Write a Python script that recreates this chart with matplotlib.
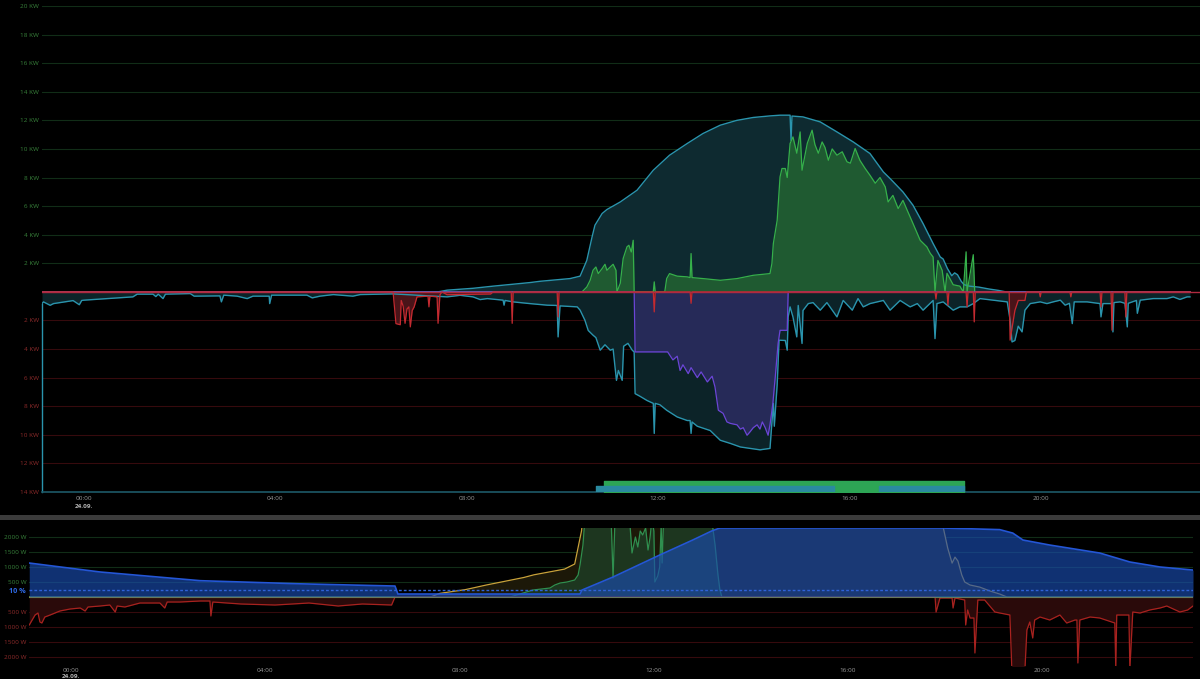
import matplotlib
matplotlib.use("Agg")
import matplotlib.pyplot as plt
import matplotlib.transforms as mtransforms
from matplotlib.patches import Rectangle

# ---------------------------------------------------------------- data
# time in hours since 24.09. 00:00, power in kW (upper panel)
pv_t = [-0.88, 7.40, 7.59, 8.13, 8.55, 9.32, 9.53, 10.16, 10.37, 10.51,
        10.62, 10.68, 10.83, 10.93, 11.21, 11.56, 11.90, 12.24, 12.61, 12.94,
        13.30, 13.65, 13.99, 14.34, 14.55, 14.76, 14.78, 14.80, 15.03, 15.39,
        15.74, 16.08, 16.43, 16.71, 16.85, 17.12, 17.33, 17.54, 17.75, 17.90,
        17.96, 18.05, 18.14, 18.20, 18.26, 18.34, 18.40, 18.51, 18.71, 18.92,
        19.12, 19.27, 23.12]
pv_kw = [0, 0, 0.12, 0.25, 0.40, 0.65, 0.74, 0.93, 1.10, 2.20,
         3.84, 4.66, 5.48, 5.76, 6.29, 7.11, 8.51, 9.56, 10.38, 11.08,
         11.66, 12.00, 12.20, 12.31, 12.36, 12.36, 10.60, 12.30, 12.24, 11.89,
         11.19, 10.49, 9.68, 8.39, 7.93, 6.99, 6.06, 4.78, 3.38, 2.44,
         2.30, 1.63, 1.13, 1.33, 1.20, 0.73, 0.50, 0.40, 0.33, 0.20,
         0.10, 0, 0]

exp_t = [-0.88, 10.41, 10.51, 10.58, 10.64, 10.70, 10.75, 10.83, 10.89, 10.93,
         11.00, 11.06, 11.12, 11.14, 11.21, 11.27, 11.35, 11.39, 11.44, 11.48,
         11.50, 11.90, 11.92, 11.94, 12.14, 12.18, 12.24, 12.40, 12.61, 12.67,
         12.69, 12.71, 12.94, 13.30, 13.65, 13.99, 14.34, 14.38, 14.41, 14.49,
         14.55, 14.59, 14.66, 14.70, 14.76, 14.82, 14.90, 14.97, 15.01, 15.12,
         15.22, 15.28, 15.35, 15.43, 15.49, 15.56, 15.64, 15.74, 15.85, 15.95,
         16.02, 16.12, 16.22, 16.33, 16.43, 16.54, 16.64, 16.75, 16.81, 16.91,
         17.02, 17.12, 17.21, 17.33, 17.48, 17.62, 17.69, 17.75, 17.79, 17.85,
         17.94, 18.00, 18.04, 18.17, 18.31, 18.38, 18.44, 18.46, 18.59, 18.62,
         23.12]
exp_kw = [0, 0, 0.34, 0.81, 1.51, 1.74, 1.28, 1.63, 1.93, 1.51,
          1.74, 1.93, 1.51, 0, 0.60, 2.33, 3.15, 3.26, 2.79, 3.61,
          0, 0, 0.70, 0, 0, 0.93, 1.28, 1.10, 1.05, 1.00,
          2.68, 1.00, 0.93, 0.81, 0.93, 1.16, 1.28, 1.98, 3.38, 5.00,
          8.04, 8.63, 8.63, 8.00, 10.38, 10.84, 9.70, 11.19, 8.51, 10.40,
          11.31, 10.30, 9.70, 10.49, 10.10, 9.21, 10.00, 9.56, 9.80, 9.10,
          9.00, 10.03, 9.20, 8.63, 8.16, 7.60, 8.00, 7.34, 6.29, 6.75,
          5.83, 6.40, 5.70, 4.78, 3.61, 3.15, 2.70, 2.44, 0, 2.20,
          1.50, 0, 1.30, 0.50, 0.40, 0, 2.80, 0, 2.60, 0,
          0]

bat_t = [-0.88, 11.50, 11.52, 12.20, 12.31, 12.40, 12.46, 12.52, 12.63, 12.69,
         12.82, 12.90, 13.03, 13.13, 13.19, 13.26, 13.36, 13.44, 13.51, 13.65,
         13.72, 13.78, 13.86, 13.92, 13.99, 14.07, 14.13, 14.18, 14.24, 14.30,
         14.34, 14.40, 14.45, 14.51, 14.55, 14.70, 14.72, 23.12]
bat_kw = [0, 0, -4.20, -4.20, -4.76, -4.50, -5.50, -5.10, -5.72, -5.30,
          -6.00, -5.60, -6.30, -5.90, -6.65, -8.28, -8.50, -9.10, -9.20, -9.30,
          -9.60, -9.50, -10.03, -9.80, -9.50, -9.30, -9.60, -9.10, -9.50, -10.03,
          -9.30, -7.80, -5.95, -3.60, -2.69, -2.69, 0, 0]

cons_t = [-0.88, -0.85, -0.71, -0.64, -0.50, -0.23, -0.10, -0.05, 0.00, 0.48,
          1.02, 1.11, 1.44, 1.50, 1.55, 1.65, 1.70, 2.22, 2.30, 2.84,
          2.87, 2.92, 3.20, 3.41, 3.53, 3.87, 3.88, 3.92, 4.66, 4.77,
          4.93, 5.21, 5.62, 5.77, 6.46, 7.59, 7.86, 8.13, 8.28, 8.43,
          8.76, 8.78, 8.80, 8.97, 9.32, 9.68, 9.89, 9.91, 9.95, 10.31,
          10.37, 10.47, 10.54, 10.64, 10.70, 10.79, 10.89, 11.00, 11.06, 11.13,
          11.17, 11.25, 11.28, 11.37, 11.46, 11.50, 11.52, 11.62, 11.77, 11.90,
          11.92, 11.94, 12.04, 12.18, 12.40, 12.61, 12.67, 12.69, 12.71, 12.82,
          13.09, 13.30, 13.51, 13.72, 13.92, 14.13, 14.34, 14.41, 14.43, 14.49,
          14.53, 14.66, 14.70, 14.72, 14.76, 14.82, 14.90, 14.93, 15.01, 15.03,
          15.14, 15.24, 15.39, 15.53, 15.74, 15.87, 16.06, 16.18, 16.29, 16.43,
          16.71, 16.85, 17.06, 17.27, 17.42, 17.54, 17.75, 17.79, 17.83, 17.96,
          18.17, 18.31, 18.46, 18.59, 18.73, 19.00, 19.30, 19.36, 19.40, 19.46,
          19.53, 19.61, 19.67, 19.78, 19.99, 20.13, 20.26, 20.41, 20.51, 20.60,
          20.66, 20.70, 20.97, 21.24, 21.26, 21.30, 21.49, 21.51, 21.53, 21.66,
          21.76, 21.81, 21.83, 22.00, 22.02, 22.08, 22.35, 22.64, 22.77, 22.91,
          23.06, 23.12]
cons_kw = [-0.82, -0.70, -0.94, -0.82, -0.75, -0.61, -0.90, -0.60, -0.58, -0.47,
           -0.35, -0.16, -0.16, -0.33, -0.16, -0.47, -0.16, -0.12, -0.30, -0.28,
           -0.70, -0.23, -0.30, -0.47, -0.30, -0.30, -0.82, -0.23, -0.23, -0.42,
           -0.30, -0.19, -0.30, -0.19, -0.14, -0.35, -0.24, -0.35, -0.54, -0.47,
           -0.58, -0.93, -0.60, -0.70, -0.82, -0.93, -0.95, -3.15, -0.98, -1.05,
           -1.28, -1.98, -2.70, -3.03, -3.20, -4.08, -3.70, -4.08, -4.00, -6.19,
           -5.50, -6.19, -3.80, -3.60, -4.08, -4.20, -7.12, -7.30, -7.60, -7.80,
           -9.90, -7.80, -7.90, -8.28, -8.75, -9.00, -9.00, -9.90, -9.10, -9.40,
           -9.70, -10.38, -10.60, -10.85, -10.95, -11.05, -10.95, -7.80, -9.40, -6.50,
           -3.38, -3.40, -4.08, -1.75, -1.05, -1.75, -3.15, -0.95, -3.61, -1.30,
           -0.82, -0.75, -1.28, -0.75, -1.75, -0.60, -1.28, -0.47, -1.05, -0.82,
           -0.60, -1.28, -0.60, -1.05, -0.82, -1.28, -0.60, -3.27, -0.82, -0.70,
           -1.28, -1.05, -1.05, -0.82, -0.47, -0.58, -0.70, -1.98, -3.50, -3.40,
           -2.40, -2.80, -1.28, -0.82, -0.70, -0.82, -0.70, -0.58, -0.93, -0.80,
           -2.22, -0.70, -0.70, -0.82, -1.75, -0.82, -0.82, -2.80, -0.75, -0.70,
           -0.80, -2.45, -0.80, -0.60, -1.50, -0.58, -0.47, -0.47, -0.35, -0.53,
           -0.35, -0.35]

imp_t = [-0.88, 6.46, 6.52, 6.61, 6.63, 6.67, 6.71, 6.75, 6.79, 6.82,
         6.86, 6.90, 6.96, 7.19, 7.21, 7.23, 7.38, 7.40, 7.44, 7.48,
         7.59, 8.50, 8.55, 8.93, 8.95, 8.97, 9.89, 9.91, 9.93, 11.90,
         11.92, 11.94, 12.67, 12.69, 12.71, 17.79, 17.81, 17.83, 18.04, 18.06,
         18.08, 18.44, 18.46, 18.48, 18.59, 18.61, 18.63, 19.34, 19.36, 19.46,
         19.53, 19.67, 19.70, 19.97, 19.99, 20.01, 20.61, 20.63, 20.65, 21.24,
         21.26, 21.28, 21.47, 21.49, 21.51, 21.76, 21.78, 21.80, 23.12]
imp_kw = [0, 0, -2.22, -2.30, -0.60, -1.00, -2.20, -1.20, -1.05, -2.45,
          -1.30, -1.05, -0.35, -0.30, -1.05, -0.30, -0.35, -2.20, -0.20, 0,
          -0.20, -0.15, 0, 0, -2.20, 0, 0, -1.75, 0, 0,
          -1.40, 0, 0, -0.80, 0, 0, -0.50, 0, 0, -0.93,
          0, 0, -1.05, 0, 0, -2.10, 0, 0, -3.38, -1.30,
          -0.60, -0.60, 0, 0, -0.35, 0, 0, -0.35, 0, 0,
          -1.05, 0, 0, -2.68, 0, 0, -1.75, 0, 0]

# schedule bars at the bottom of the power panel (start, end in hours)
sched_green = [(10.87, 18.40)]
sched_teal = [(10.70, 15.68), (16.62, 18.40)]

# lower panel: battery state of charge (%) and powers in W
soc_t = [-0.86, 0.60, 2.66, 4.70, 6.67, 6.73, 10.48, 10.52, 11.16, 12.12,
         12.80, 13.19, 13.36, 17.95, 19.12, 19.39, 19.60, 20.15, 21.18, 21.80,
         22.42, 23.10]
soc_pct = [48.9, 36.0, 23.5, 19.0, 15.8, 4.3, 4.3, 10.0, 28.8, 60.4,
           82.0, 95.0, 99.3, 99.3, 97.0, 92.0, 82.0, 74.8, 63.3, 50.4,
           43.2, 38.8]

chg_t = [-0.86, 9.04, 9.51, 9.86, 9.96, 10.07, 10.21, 10.37, 10.44, 10.48,
         10.54, 10.58, 11.12, 11.16, 11.20, 11.50, 11.55, 11.62, 11.67, 11.72,
         11.77, 11.83, 11.88, 11.92, 11.96, 12.00, 12.02, 12.08, 12.12, 12.15,
         12.17, 12.20, 13.19, 13.26, 13.32, 13.36, 13.40, 23.10]
chg_w = [0, 0, 233, 300, 400, 467, 500, 567, 733, 1067,
         1733, 2600, 2600, 633, 2600, 2600, 1467, 2000, 1667, 2200,
         2067, 2300, 1567, 1967, 2600, 2200, 500, 700, 1000, 2400,
         1133, 2600, 2600, 1733, 733, 233, 0, 0]

dis_t = [-0.86, -0.74, -0.68, -0.64, -0.60, -0.54, -0.43, -0.23, -0.02, 0.19,
         0.29, 0.35, 0.60, 0.80, 0.91, 0.95, 1.11, 1.42, 1.83, 1.93,
         1.98, 2.24, 2.66, 2.86, 2.88, 2.92, 3.50, 4.20, 4.90, 5.50,
         6.00, 6.60, 6.67, 17.79, 17.81, 17.89, 18.14, 18.16, 18.20, 18.40,
         18.42, 18.46, 18.51, 18.59, 18.61, 18.67, 18.81, 19.02, 19.33, 19.37,
         19.64, 19.68, 19.74, 19.80, 19.84, 19.95, 20.15, 20.36, 20.50, 20.67,
         20.71, 20.73, 20.77, 20.98, 21.18, 21.49, 21.51, 21.53, 21.59, 21.78,
         21.80, 21.86, 22.01, 22.21, 22.42, 22.56, 22.83, 22.99, 23.10]
dis_w = [-933, -600, -533, -833, -867, -667, -600, -467, -400, -367,
         -467, -333, -300, -267, -500, -300, -333, -200, -200, -367,
         -167, -167, -133, -133, -633, -167, -233, -267, -200, -300,
         -233, -267, 0, 0, -500, -33, -33, -367, -33, -100,
         -933, -433, -700, -700, -1867, -100, -100, -500, -600, -2400,
         -2400, -1100, -833, -1367, -767, -667, -767, -600, -867, -767,
         -767, -2200, -767, -667, -700, -867, -2400, -600, -600, -600,
         -2400, -500, -533, -433, -367, -300, -500, -433, -300]

hour_ticks = [0, 4, 8, 12, 16, 20]
hour_labels = ["00:00", "04:00", "08:00", "12:00", "16:00", "20:00"]
date_label = "24.09."
kw_ticks = [20, 18, 16, 14, 12, 10, 8, 6, 4, 2, -2, -4, -6, -8, -10, -12, -14]
w_ticks = [2000, 1500, 1000, 500, -500, -1000, -1500, -2000]
soc_ticks = [10]

for a, b in ((pv_t, pv_kw), (exp_t, exp_kw), (bat_t, bat_kw), (cons_t, cons_kw),
             (imp_t, imp_kw), (soc_t, soc_pct), (chg_t, chg_w), (dis_t, dis_w)):
    assert len(a) == len(b), (len(a), len(b))

# ---------------------------------------------------------------- style
BG = "#000000"
FS = 4.6
POS_TXT, NEG_TXT = "#37803a", "#8c2a2a"
POS_GRID, NEG_GRID = "#112d17", "#360a0d"
CYAN, CYAN_FILL = "#2a94ad", "#0e2a30"
TICK_TXT = "#9a9a9a"

plt.rcParams["font.family"] = ["Open Sans", "DejaVu Sans"]

fig = plt.figure(figsize=(12, 6.79), dpi=100, facecolor=BG)


def style_axis(ax):
    for s in ax.spines.values():
        s.set_visible(False)
    ax.tick_params(axis="both", length=0, labelsize=FS)
    ax.tick_params(axis="x", pad=3, labelcolor=TICK_TXT)
    ax.tick_params(axis="y", pad=2)


def date_under_midnight(ax, dy):
    trans = mtransforms.blended_transform_factory(ax.transData, ax.transAxes)
    ax.annotate(date_label, xy=(0, 0), xycoords=trans, xytext=(0, dy),
                textcoords="offset points", ha="center", va="center",
                fontsize=FS, fontweight="bold", color="#b5b5b5",
                annotation_clip=False)


# ---------------------------------------------------------------- power panel
ax = fig.add_axes([0.035, 0.2754, 0.965, 0.7158], facecolor=BG)
ax.set_xlim(-0.88, 23.33)
ax.set_ylim(-14, 20)
style_axis(ax)

for v in kw_ticks:
    ax.axhline(v, color=POS_GRID if v > 0 else NEG_GRID, lw=0.8, zorder=0)

ax.fill_between(pv_t, 0, pv_kw, color=CYAN_FILL, lw=0, zorder=1)
ax.fill_between(cons_t, 0, cons_kw, color="#0c2328", lw=0, zorder=1)
ax.fill_between(exp_t, 0, exp_kw, color="#1f5a31", lw=0, zorder=2)
ax.fill_between(bat_t, 0, bat_kw, color="#262a58", lw=0, zorder=2)
ax.fill_between(imp_t, 0, imp_kw, color="#4a1419", lw=0, zorder=2)

ax.plot(pv_t, pv_kw, color=CYAN, lw=1.0, zorder=3)
ax.plot(cons_t, cons_kw, color=CYAN, lw=1.0, zorder=3)
ax.plot(exp_t, exp_kw, color="#36b04a", lw=0.9, zorder=4)
ax.plot(bat_t, bat_kw, color="#6b45d6", lw=0.9, zorder=4)
ax.plot(imp_t, imp_kw, color="#c42a30", lw=0.9, zorder=5)
ax.axhline(0, color="#b02a40", lw=1.0, zorder=6)

# frame-like teal edges where the consumption series starts
ax.plot([cons_t[0], cons_t[0]], [-14, cons_kw[0]], color=CYAN, lw=1.0,
        clip_on=False, zorder=6)
ax.axhline(-14, color="#1d5a68", lw=1.2, clip_on=False, zorder=6)

ax.broken_barh([(s, e - s) for s, e in sched_green], (-14, 0.8),
               color="#2da555", zorder=7)
ax.broken_barh([(s, e - s) for s, e in sched_teal], (-14, 0.42),
               color="#2a8aa0", zorder=8)

ax.set_yticks(kw_ticks)
ax.set_yticklabels([f"{abs(v)} KW" for v in kw_ticks])
for lbl, v in zip(ax.get_yticklabels(), kw_ticks):
    lbl.set_color(POS_TXT if v > 0 else NEG_TXT)
ax.set_xticks(hour_ticks)
ax.set_xticklabels(hour_labels)
date_under_midnight(ax, -10.5)

# separator between the panels
fig.add_artist(Rectangle((0, 1 - 520 / 679), 1, 5 / 679,
                         transform=fig.transFigure, color="#3b3b3b", lw=0))

# ---------------------------------------------------------------- battery panel
ax2 = fig.add_axes([0.02417, 0.01915, 0.97, 0.2032], facecolor=BG)
ax2.set_xlim(-0.865, 23.10)
ax2.set_ylim(-2300, 2300)
style_axis(ax2)
ax2.tick_params(axis="x", pad=1.5)

for v in w_ticks:
    ax2.axhline(v, color=POS_GRID if v > 0 else NEG_GRID, lw=0.8, zorder=0)

pv_w = [v * 1000 for v in pv_kw]
ax2.fill_between(pv_t, 0, pv_w, color="#1c1808", lw=0, zorder=1)
ax2.fill_between(chg_t, 0, chg_w, color="#1d361f", lw=0, zorder=2)
ax2.fill_between(dis_t, 0, dis_w, color="#2a0a0a", lw=0, zorder=2)
ax2.plot(pv_t, pv_w, color="#c9a23a", lw=0.9, zorder=3)
ax2.plot(chg_t, chg_w, color="#2f8f4f", lw=0.9, zorder=3)
ax2.plot(dis_t, dis_w, color="#a8221f", lw=0.9, zorder=3)
ax2.axhline(0, color="#8f8f34", lw=0.8, zorder=4)

ax2.set_yticks(w_ticks)
ax2.set_yticklabels([f"{abs(v)} W" for v in w_ticks])
for lbl, v in zip(ax2.get_yticklabels(), w_ticks):
    lbl.set_color(POS_TXT if v > 0 else NEG_TXT)
ax2.set_xticks(hour_ticks)
ax2.set_xticklabels(hour_labels)
date_under_midnight(ax2, -7.6)

ax3 = ax2.twinx()
ax3.set_ylim(-99.3, 99.3)
for s in ax3.spines.values():
    s.set_visible(False)
ax3.fill_between(soc_t, 0, soc_pct, color="#1a4cb0", alpha=0.65, lw=0, zorder=1)
ax3.plot(soc_t, soc_pct, color="#2456d6", lw=1.2, zorder=2)
ax3.axhline(soc_ticks[0], color="#2f62d8", lw=1.0, ls=(0, (2, 1.5)), zorder=2)
ax3.yaxis.tick_left()
ax3.set_yticks(soc_ticks)
ax3.set_yticklabels([f"{v} %" for v in soc_ticks])
ax3.tick_params(axis="y", length=0, pad=2, labelsize=FS + 0.6,
                labelcolor="#2f6be8")
for lbl in ax3.get_yticklabels():
    lbl.set_fontweight("bold")

fig.savefig("out.png", dpi=100, facecolor=BG)
